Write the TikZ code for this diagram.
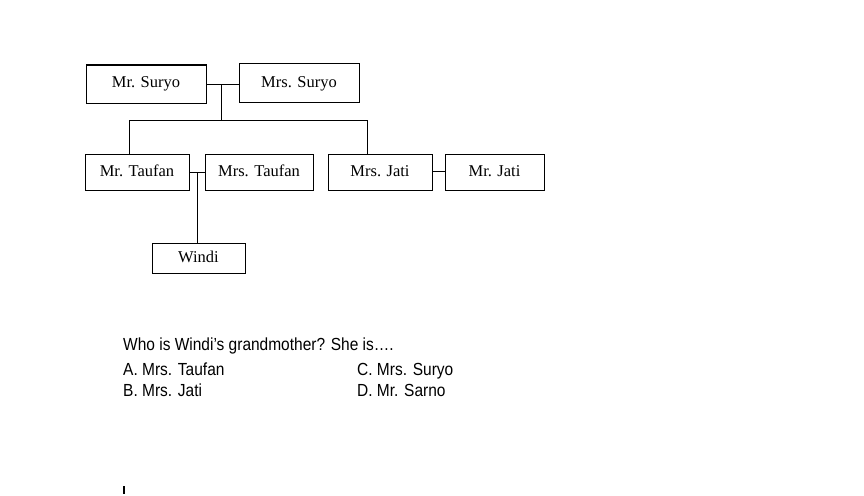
\documentclass[tikz,border=0pt]{standalone}
\usepackage{fontspec}
\setmainfont{Liberation Serif}
\newfontfamily\qfont[FakeStretch=0.885]{Liberation Sans}
\begin{document}
\begin{tikzpicture}[x=1pt,y=-1pt,
  person/.style={draw=black,line width=1pt,inner sep=0pt,
    font=\fontsize{16.5}{19}\selectfont,text height=11pt,text depth=3pt},
  link/.style={draw=black,line width=1pt},
  qtext/.style={anchor=base west,inner sep=0pt,font=\qfont\fontsize{17.5}{20}\selectfont}]
\useasboundingbox[fill=white] (0,0) rectangle (864,495);
% generation 1
\node[person,minimum width=120pt,minimum height=38pt] (mrsuryo) at (146,84) {Mr. Suryo};
\node[person,minimum width=120pt,minimum height=38pt] (mrssuryo) at (299,83) {Mrs. Suryo};
% generation 2
\node[person,minimum width=104pt,minimum height=36pt] (mrtaufan) at (137,172) {Mr. Taufan};
\node[person,minimum width=108pt,minimum height=36pt] (mrstaufan) at (259,172) {Mrs. Taufan};
\node[person,minimum width=104pt,minimum height=36pt] (mrsjati) at (380,172) {Mrs. Jati};
\node[person,minimum width=99pt,minimum height=36pt] (mrjati) at (494.5,172) {Mr. Jati};
% generation 3
\node[person,minimum width=93pt,minimum height=30pt] (windi) at (198.5,258) {Windi};
% connector points
\coordinate (m1) at (221,84);
\coordinate (b1) at (221,120);
\coordinate (bl) at (129,120);
\coordinate (br) at (367,120);
\coordinate (m2) at (197,172);
% lines
\draw[link] (mrsuryo.east |- m1) -- (mrssuryo.west |- m1);
\draw[link] (m1) -- (b1);
\draw[link] (bl) -- (br);
\draw[link] (bl) -- (bl |- mrtaufan.north);
\draw[link] (br) -- (br |- mrsjati.north);
\draw[link] (mrtaufan.east |- m2) -- (mrstaufan.west |- m2);
\draw[link] (m2) -- (m2 |- windi.north);
\draw[link] (mrsjati.east |- 0,171) -- (mrjati.west |- 0,171);
% question
\node[qtext] (q) at (123,350.7) {Who is Windi’s grandmother? She is….};
\node[qtext] (a) at (123,375) {A. Mrs. Taufan};
\node[qtext] (b) at (123,396.7) {B. Mrs. Jati};
\node[qtext] (c) at (357,375) {C. Mrs. Suryo};
\node[qtext] (d) at (357,396.7) {D. Mr. Sarno};
% text cursor
\draw[line width=1.5pt] (124,486) -- (124,494);
\end{tikzpicture}
\end{document}
